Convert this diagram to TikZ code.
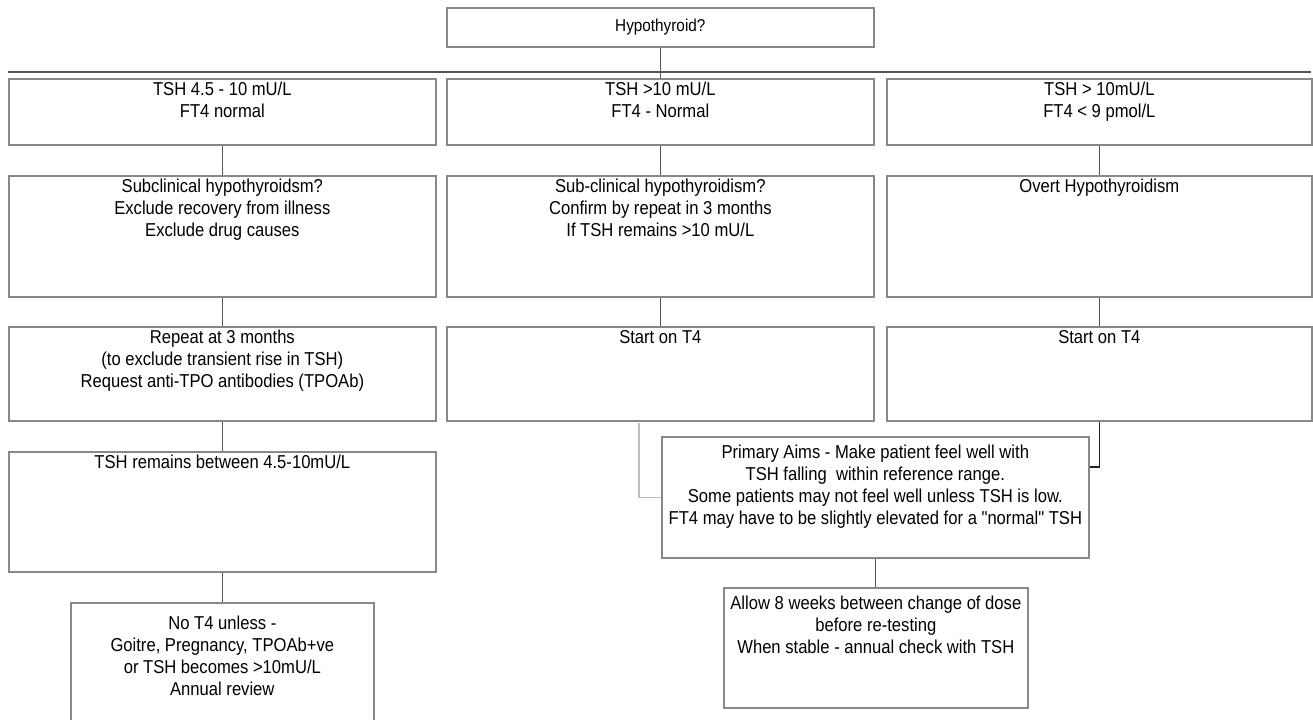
\documentclass[tikz,border=0pt]{standalone}
\usepackage{fontspec}
\setmainfont{Liberation Sans}[FakeStretch=0.89,Ligatures=TeXOff]
\usetikzlibrary{calc}
\definecolor{boxgray}{HTML}{888888}
\definecolor{linegray}{HTML}{555555}
\definecolor{lightline}{HTML}{BDBDBD}
\definecolor{darkline}{HTML}{222222}
\newcommand\FCbox[5]{\node[fcbox,anchor=north west,minimum width={(#4-#2)*0.75pt},minimum height={(#5-#3)*0.75pt}] (#1) at (#2,#3) {};}
\newcommand\FCtext[3]{\node[fctext,anchor=north] (t#1) at ($(#1.north)+(0,#2)$) {\strut #3};}
\begin{document}
\begin{tikzpicture}[x=0.75pt,y=-0.75pt,
  fcbox/.style={draw=boxgray,line width=1.25pt,fill=white,rectangle,inner sep=0pt},
  fctext/.style={inner sep=0pt,align=center,font=\fontsize{14}{16.5}\selectfont,text=black},
  conn/.style={draw=linegray,line width=0.8pt},
  lightconn/.style={draw=lightline,line width=1.1pt},
  darkconn/.style={draw=darkline,line width=0.8pt}]
\useasboundingbox (0,0) rectangle (1313,720);
% boxes
\FCbox{top}{446}{7}{873}{46}
\FCbox{r1L}{8}{78}{435}{144}
\FCbox{r1M}{446}{78}{873}{144}
\FCbox{r1R}{886}{78}{1311}{144}
\FCbox{r2L}{8}{175}{435}{296}
\FCbox{r2M}{446}{175}{873}{296}
\FCbox{r2R}{886}{175}{1311}{296}
\FCbox{r3L}{8}{326}{435}{420}
\FCbox{r3M}{446}{326}{873}{420}
\FCbox{r3R}{886}{326}{1311}{420}
\FCbox{r4L}{8}{451}{435}{571}
\FCbox{r5L}{70}{602}{373}{740}
\FCbox{aims}{661}{436}{1088}{557}
\FCbox{allow}{723}{587}{1027}{707}
% texts
\node[fctext,font=\fontsize{12.9}{15.5}\selectfont] (ttop) at (top.center) {Hypothyroid?};
\FCtext{r1L}{1.5}{TSH 4.5 - 10 mU/L\\FT4 normal}
\FCtext{r1M}{1.5}{TSH >10 mU/L\\FT4 - Normal}
\FCtext{r1R}{1.5}{TSH > 10mU/L\\FT4 < 9 pmol/L}
\FCtext{r2L}{1.5}{Subclinical hypothyroidsm?\\Exclude recovery from illness\\Exclude drug causes}
\FCtext{r2M}{1.5}{Sub-clinical hypothyroidism?\\Confirm by repeat in 3 months\\If TSH remains >10 mU/L}
\FCtext{r2R}{1.5}{Overt Hypothyroidism}
\FCtext{r3L}{1.5}{Repeat at 3 months\\(to exclude transient rise in TSH)\\Request anti-TPO antibodies (TPOAb)}
\FCtext{r3M}{1.5}{Start on T4}
\FCtext{r3R}{1.5}{Start on T4}
\FCtext{r4L}{1.5}{TSH remains between 4.5-10mU/L}
\FCtext{r5L}{12}{No T4 unless -\\Goitre, Pregnancy, TPOAb+ve\\or TSH becomes >10mU/L\\Annual review}
\FCtext{aims}{6.5}{Primary Aims - Make patient feel well with\\TSH falling\ \ within reference range.\\Some patients may not feel well unless TSH is low.\\FT4 may have to be slightly elevated for a "normal" TSH}
\FCtext{allow}{6.5}{Allow 8 weeks between change of dose\\before re-testing\\When stable - annual check with TSH}
% connectors
\coordinate (barL) at (8,72);
\coordinate (barR) at (1311,72);
\draw[conn] (barL) -- (barR);
\draw[conn] (top.south) -- (r1M.north);
\draw[conn] (r1L.south) -- (r2L.north);
\draw[conn] (r2L.south) -- (r3L.north);
\draw[conn] (r3L.south) -- (r4L.north);
\draw[conn] (r4L.south) -- (r5L.north);
\draw[conn] (r1M.south) -- (r2M.north);
\draw[conn] (r2M.south) -- (r3M.north);
\draw[conn] (r1R.south) -- (r2R.north);
\draw[conn] (r2R.south) -- (r3R.north);
\coordinate (rj) at ($(aims.north east)+(0,31)$);
\draw[darkconn] (r3R.south) |- (rj);
\coordinate (g0) at (639,423);
\draw[lightconn] (g0) |- (aims.west);
\draw[conn] (aims.south) -- (aims.south |- allow.north);
\end{tikzpicture}
\end{document}
